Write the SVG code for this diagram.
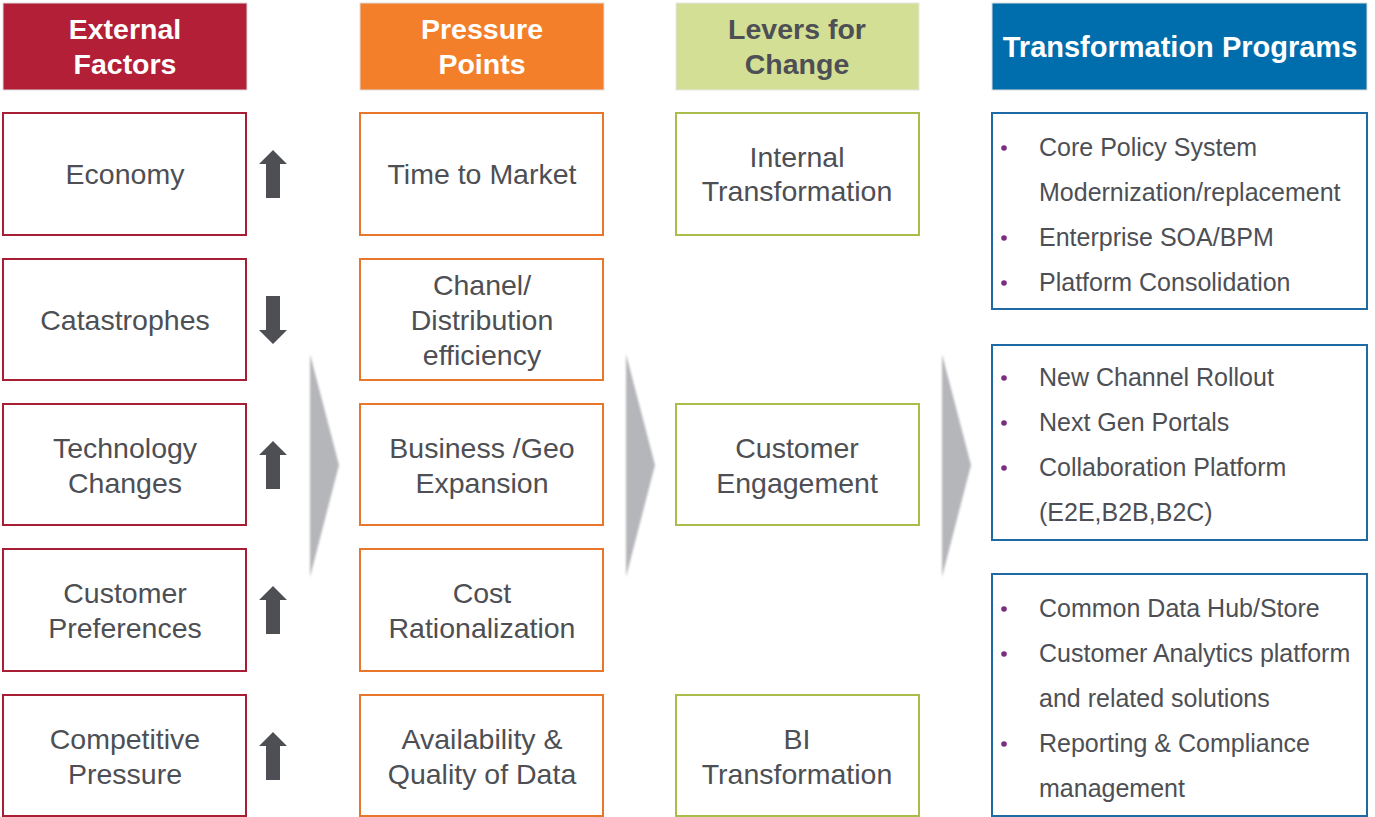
<svg xmlns="http://www.w3.org/2000/svg" width="1375" height="817" viewBox="0 0 1375 817">
<style>
text{font-family:"Liberation Sans",Arial,sans-serif;}
.hd{font-size:28.5px;font-weight:bold;fill:#ffffff;text-anchor:middle;}
.hdk{font-size:28.5px;font-weight:bold;fill:#4D4F54;text-anchor:middle;}
.t{font-size:28.5px;fill:#4D4F54;text-anchor:middle;}
.b{font-size:25px;fill:#4D4F54;}
.dot{fill:#7B2C83;}
.r{fill:#ffffff;stroke:#A81E34;stroke-width:2;}
.o{fill:#ffffff;stroke:#E8762B;stroke-width:2;}
.g{fill:#ffffff;stroke:#A9BD4B;stroke-width:2;}
.bl{fill:#ffffff;stroke:#1D6AA5;stroke-width:2;}
.arr{fill:#4D4F54;}
.chev{fill:#B5B6BA;filter:url(#soft);}
</style>
<defs>
<filter id="soft" x="-20%" y="-5%" width="140%" height="110%"><feGaussianBlur stdDeviation="1"/></filter>
<path id="up" d="M0,-24 L14,-10 L7,-10 L7,24 L-7,24 L-7,-10 L-14,-10 Z"/>
</defs>
<rect width="1375" height="817" fill="#ffffff"/>
<g id="headers">
<g id="h-external"><rect x="3" y="3" width="244" height="87" fill="#B21F37" stroke="#dddddd" stroke-width="1"/><text class="hd" x="125" y="39">External</text><text class="hd" x="125" y="74">Factors</text></g>
<g id="h-pressure"><rect x="360" y="3" width="244" height="87" fill="#F47F2A" stroke="#dddddd" stroke-width="1"/><text class="hd" x="482" y="39">Pressure</text><text class="hd" x="482" y="74">Points</text></g>
<g id="h-levers"><rect x="676" y="3" width="243" height="87" fill="#D4DF96" stroke="#e6e6e6" stroke-width="1"/><text class="hdk" x="797" y="39">Levers for</text><text class="hdk" x="797" y="74">Change</text></g>
<g id="h-transform"><rect x="992" y="3" width="375" height="87" fill="#006EAD" stroke="#dddddd" stroke-width="1"/><text class="hd" x="1180" y="57" style="font-size:29px">Transformation Programs</text></g>
</g>
<g id="connectors">
<polygon class="chev" points="310,354 339,465 310,577"/>
<polygon class="chev" points="626,354 655,465 626,577"/>
<polygon class="chev" points="942,354 971,465 942,577"/>
<use href="#up" class="arr" x="273" y="174"/>
<use href="#up" class="arr" transform="translate(273,320) rotate(180)"/>
<use href="#up" class="arr" x="273" y="465"/>
<use href="#up" class="arr" x="273" y="610"/>
<use href="#up" class="arr" x="273" y="756"/>
</g>
<g id="n-economy"><rect class="r" x="3" y="113" width="243" height="122"/><text class="t" x="125" y="184">Economy</text></g>
<g id="n-catastrophes"><rect class="r" x="3" y="259" width="243" height="121"/><text class="t" x="125" y="330">Catastrophes</text></g>
<g id="n-technology"><rect class="r" x="3" y="404" width="243" height="121"/><text class="t" x="125" y="458">Technology</text><text class="t" x="125" y="493">Changes</text></g>
<g id="n-customer-pref"><rect class="r" x="3" y="549" width="243" height="122"/><text class="t" x="125" y="603">Customer</text><text class="t" x="125" y="638">Preferences</text></g>
<g id="n-competitive"><rect class="r" x="3" y="695" width="243" height="121"/><text class="t" x="125" y="749">Competitive</text><text class="t" x="125" y="784">Pressure</text></g>

<g id="n-ttm"><rect class="o" x="360" y="113" width="243" height="122"/><text class="t" x="482" y="184">Time to Market</text></g>
<g id="n-chanel"><rect class="o" x="360" y="259" width="243" height="121"/><text class="t" x="482" y="295">Chanel/</text><text class="t" x="482" y="330">Distribution</text><text class="t" x="482" y="365">efficiency</text></g>
<g id="n-business"><rect class="o" x="360" y="404" width="243" height="121"/><text class="t" x="482" y="458">Business /Geo</text><text class="t" x="482" y="493">Expansion</text></g>
<g id="n-cost"><rect class="o" x="360" y="549" width="243" height="122"/><text class="t" x="482" y="603">Cost</text><text class="t" x="482" y="638">Rationalization</text></g>
<g id="n-data"><rect class="o" x="360" y="695" width="243" height="121"/><text class="t" x="482" y="749">Availability &amp;</text><text class="t" x="482" y="784">Quality of Data</text></g>

<g id="n-internal"><rect class="g" x="676" y="113" width="243" height="122"/><text class="t" x="797" y="167">Internal</text><text class="t" x="797" y="201">Transformation</text></g>
<g id="n-engagement"><rect class="g" x="676" y="404" width="243" height="121"/><text class="t" x="797" y="458">Customer</text><text class="t" x="797" y="493">Engagement</text></g>
<g id="n-bi"><rect class="g" x="676" y="695" width="243" height="121"/><text class="t" x="797" y="749">BI</text><text class="t" x="797" y="784">Transformation</text></g>

<g id="n-prog1"><rect class="bl" x="992" y="113" width="375" height="196"/>
<circle class="dot" cx="1004" cy="148" r="2.8"/><text class="b" x="1039" y="156">Core Policy System</text>
<text class="b" x="1039" y="201">Modernization/replacement</text>
<circle class="dot" cx="1004" cy="238" r="2.8"/><text class="b" x="1039" y="246">Enterprise SOA/BPM</text>
<circle class="dot" cx="1004" cy="283" r="2.8"/><text class="b" x="1039" y="291">Platform Consolidation</text></g>
<g id="n-prog2"><rect class="bl" x="992" y="345" width="375" height="195"/>
<circle class="dot" cx="1004" cy="378" r="2.8"/><text class="b" x="1039" y="386">New Channel Rollout</text>
<circle class="dot" cx="1004" cy="423" r="2.8"/><text class="b" x="1039" y="431">Next Gen Portals</text>
<circle class="dot" cx="1004" cy="468" r="2.8"/><text class="b" x="1039" y="476">Collaboration Platform</text>
<text class="b" x="1039" y="521">(E2E,B2B,B2C)</text></g>
<g id="n-prog3"><rect class="bl" x="992" y="574" width="375" height="242"/>
<circle class="dot" cx="1004" cy="609" r="2.8"/><text class="b" x="1039" y="617">Common Data Hub/Store</text>
<circle class="dot" cx="1004" cy="654" r="2.8"/><text class="b" x="1039" y="662">Customer Analytics platform</text>
<text class="b" x="1039" y="707">and related solutions</text>
<circle class="dot" cx="1004" cy="744" r="2.8"/><text class="b" x="1039" y="752">Reporting &amp; Compliance</text>
<text class="b" x="1039" y="797">management</text></g>
</svg>
